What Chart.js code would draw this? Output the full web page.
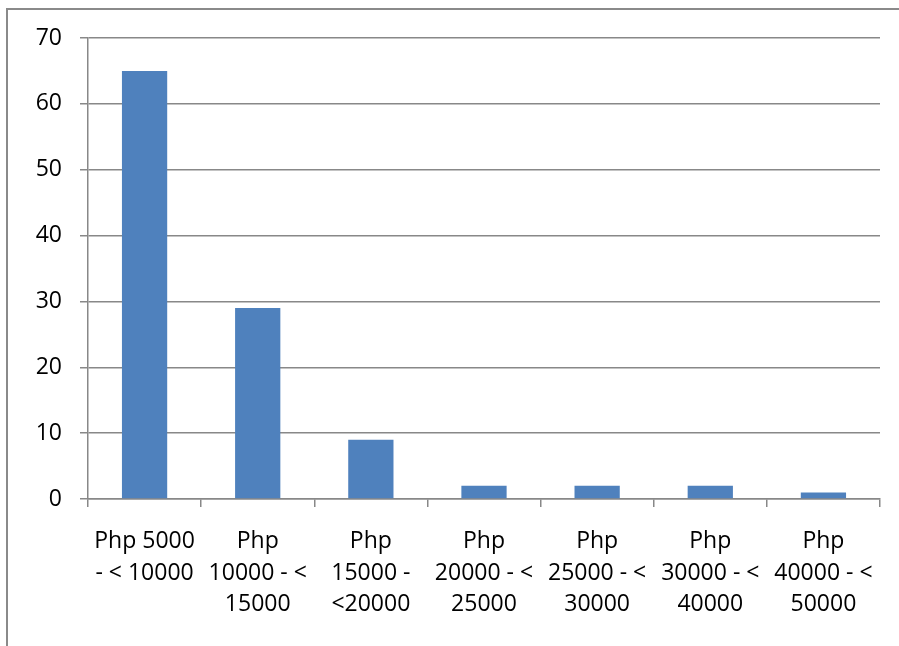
<!DOCTYPE html>
<html>
<head>
<meta charset="utf-8">
<script src="https://cdn.jsdelivr.net/npm/chart.js@4/dist/chart.umd.min.js"></script>
<style>
  html, body { margin: 0; padding: 0; background: #fff; }
  #wrap { position: relative; width: 899px; height: 646px; }
  #frame {
    position: absolute; left: 6px; top: 8px; right: 0; bottom: 0;
    border-left: 2px solid #8a8a8a; border-top: 2px solid #8a8a8a;
    pointer-events: none;
  }
</style>
</head>
<body>
<div id="wrap">
  <canvas id="incomeChart"></canvas>
  <div id="frame"></div>
</div>
<script>
// Monthly income brackets and how many respondents fall in each
const incomeBrackets = [
  ["Php 5000", "- < 10000"],
  ["Php", "10000 - <", "15000"],
  ["Php", "15000 -", "<20000"],
  ["Php", "20000 - <", "25000"],
  ["Php", "25000 - <", "30000"],
  ["Php", "30000 - <", "40000"],
  ["Php", "40000 - <", "50000"],
];
const respondents = [65, 29, 9, 2, 2, 2, 1];
const yTicks = [0, 10, 20, 30, 40, 50, 60, 70];

const gridGray = "#888888";
const labelFont = {
  family: "'Open Sans', 'Noto Sans', sans-serif",
  size: 23,
  lineHeight: 1.37,
};

const ctx = document.getElementById("incomeChart").getContext("2d");

new Chart(ctx, {
  type: "bar",
  data: {
    labels: incomeBrackets,
    datasets: [
      {
        data: respondents,
        backgroundColor: "#4F81BD",
        borderWidth: 0,
        barPercentage: 0.4,
        categoryPercentage: 1.0,
      },
    ],
  },
  options: {
    responsive: true,
    maintainAspectRatio: false,
    animation: false,
    layout: { padding: { top: 38, right: 19, bottom: 0, left: 0 } },
    plugins: { legend: { display: false }, tooltip: { enabled: false } },
    scales: {
      x: {
        grid: {
          offset: true,
          drawOnChartArea: false,
          drawTicks: true,
          tickLength: 8,
          color: gridGray,
          lineWidth: 1.5,
        },
        border: { color: gridGray, width: 1.5 },
        ticks: {
          color: "#000",
          font: labelFont,
          maxRotation: 0,
          autoSkip: false,
          padding: 19,
        },
        afterFit: (scale) => { scale.height = 147; },
      },
      y: {
        min: 0,
        max: 70,
        afterBuildTicks: (scale) => {
          scale.ticks = yTicks.map((v) => ({ value: v }));
        },
        grid: { color: gridGray, tickLength: 8, drawTicks: true, lineWidth: 1.5 },
        border: { color: gridGray, width: 1.5 },
        ticks: { color: "#000", font: labelFont, padding: 18 },
        afterFit: (scale) => { scale.width = 88; },
      },
    },
  },
});
</script>
</body>
</html>
